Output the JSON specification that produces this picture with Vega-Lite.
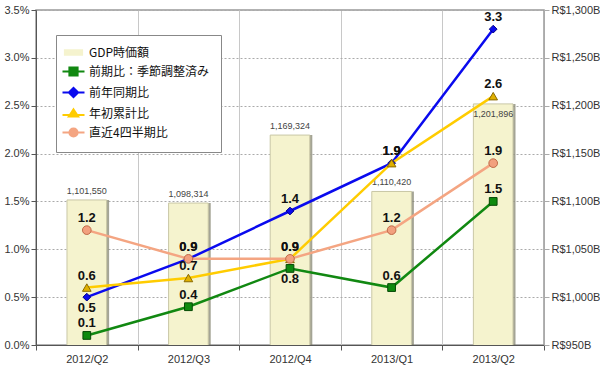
{
  "$schema": "https://vega.github.io/schema/vega-lite/v6.json",
  "width": 508,
  "height": 335,
  "padding": {"left": 3, "top": 4, "right": 0, "bottom": 2},
  "background": "white",
  "config": {
    "view": {"stroke": "#999", "strokeWidth": 1.5},
    "font": "Liberation Sans",
    "axis": {"labelFont": "Liberation Sans", "labelFontSize": 11, "labelColor": "#333", "title": null},
    "legend": {
      "orient": "none", "legendX": 20, "legendY": 25,
      "fillColor": "white", "strokeColor": "#888", "padding": 11,
      "labelFont": "Noto Sans CJK JP", "labelFontSize": 12, "labelColor": "#111",
      "symbolSize": 100, "labelOffset": 9, "rowPadding": 3, "symbolStrokeWidth": 2.2, "symbolOpacity": 1
    }
  },
  "datasets": {
    "gdp": [
      {"q": "2012/Q2", "series": "GDP時価額", "gdp": 1101550},
      {"q": "2012/Q3", "series": "GDP時価額", "gdp": 1098314},
      {"q": "2012/Q4", "series": "GDP時価額", "gdp": 1169324},
      {"q": "2013/Q1", "series": "GDP時価額", "gdp": 1110420},
      {"q": "2013/Q2", "series": "GDP時価額", "gdp": 1201896}
    ],
    "rates": [
      {"q": "2012/Q2", "series": "前期比：季節調整済み", "value": 0.1},
      {"q": "2012/Q3", "series": "前期比：季節調整済み", "value": 0.4},
      {"q": "2012/Q4", "series": "前期比：季節調整済み", "value": 0.8},
      {"q": "2013/Q1", "series": "前期比：季節調整済み", "value": 0.6},
      {"q": "2013/Q2", "series": "前期比：季節調整済み", "value": 1.5},
      {"q": "2012/Q2", "series": "前年同期比", "value": 0.5},
      {"q": "2012/Q3", "series": "前年同期比", "value": 0.9},
      {"q": "2012/Q4", "series": "前年同期比", "value": 1.4},
      {"q": "2013/Q1", "series": "前年同期比", "value": 1.9},
      {"q": "2013/Q2", "series": "前年同期比", "value": 3.3},
      {"q": "2012/Q2", "series": "年初累計比", "value": 0.6},
      {"q": "2012/Q3", "series": "年初累計比", "value": 0.7},
      {"q": "2012/Q4", "series": "年初累計比", "value": 0.9},
      {"q": "2013/Q1", "series": "年初累計比", "value": 1.9},
      {"q": "2013/Q2", "series": "年初累計比", "value": 2.6},
      {"q": "2012/Q2", "series": "直近4四半期比", "value": 1.2},
      {"q": "2012/Q3", "series": "直近4四半期比", "value": 0.9},
      {"q": "2012/Q4", "series": "直近4四半期比", "value": 0.9},
      {"q": "2013/Q1", "series": "直近4四半期比", "value": 1.2},
      {"q": "2013/Q2", "series": "直近4四半期比", "value": 1.9}
    ]
  },
  "encoding": {
    "x": {
      "field": "q", "type": "nominal", "sort": null,
      "scale": {"paddingInner": 0, "paddingOuter": 0},
      "axis": {"labelAngle": 0, "tickBand": "extent", "grid": true, "gridColor": "#c8c8c8", "gridWidth": 1, "domainColor": "#555", "tickColor": "#555", "tickSize": 5, "labelPadding": 3}
    }
  },
  "layer": [
    {
      "data": {"name": "gdp"},
      "encoding": {
        "y": {
          "field": "gdp", "type": "quantitative",
          "scale": {"domain": [950000, 1300000], "zero": false, "nice": false},
          "axis": {"orient": "right", "values": [950000, 1000000, 1050000, 1100000, 1150000, 1200000, 1250000, 1300000], "labelExpr": "'R$' + format(datum.value/1000, ',') + 'B'", "grid": false, "domainColor": "#aaa", "tickColor": "#aaa", "tickSize": 5}
        }
      },
      "layer": [
        {
          "mark": {"type": "bar", "width": {"band": 0.39}, "xOffset": 2.5, "color": "#7d7d68", "opacity": 0.7, "clip": true}
        },
        {
          "mark": {"type": "bar", "width": {"band": 0.39}, "stroke": "#c9c7a6", "strokeWidth": 1, "clip": true},
          "encoding": {
            "color": {
              "field": "series", "type": "nominal",
              "scale": {"domain": ["GDP時価額", "前期比：季節調整済み", "前年同期比", "年初累計比", "直近4四半期比"], "range": ["#F5F3CE", "#118811", "#0A0AEE", "#FFCC00", "#F4A582"]},
              "legend": {"title": null}
            }
          }
        },
        {
          "transform": [{"filter": "datum.q !== '2013/Q2'"}],
          "mark": {"type": "text", "dy": -9, "fontSize": 9, "color": "#444", "font": "Liberation Sans"},
          "encoding": {"text": {"field": "gdp", "type": "quantitative", "format": ","}}
        },
        {
          "transform": [{"filter": "datum.q === '2013/Q2'"}],
          "mark": {"type": "text", "dy": 10, "fontSize": 9, "color": "#444", "font": "Liberation Sans"},
          "encoding": {"text": {"field": "gdp", "type": "quantitative", "format": ","}}
        }
      ]
    },
    {
      "data": {"name": "rates"},
      "encoding": {
        "y": {
          "field": "value", "type": "quantitative",
          "scale": {"domain": [0, 3.5], "nice": false},
          "axis": {"orient": "left", "values": [0, 0.5, 1, 1.5, 2, 2.5, 3, 3.5], "labelExpr": "format(datum.value, '.1f') + '%'", "grid": true, "gridDash": [2, 2], "gridColor": "#aaa", "domainColor": "#555", "tickColor": "#555", "tickSize": 5}
        }
      },
      "layer": [
        {
          "mark": {"type": "line", "strokeWidth": 2.5},
          "encoding": {
            "color": {
              "field": "series", "type": "nominal",
              "scale": {"domain": ["GDP時価額", "前期比：季節調整済み", "前年同期比", "年初累計比", "直近4四半期比"], "range": ["#F5F3CE", "#118811", "#0A0AEE", "#FFCC00", "#F4A582"]},
              "legend": {"title": null}
            }
          }
        },
        {
          "transform": [{"filter": "false"}],
          "mark": {"type": "point", "filled": true},
          "encoding": {
            "color": {
              "field": "series", "type": "nominal",
              "scale": {"domain": ["GDP時価額", "前期比：季節調整済み", "前年同期比", "年初累計比", "直近4四半期比"], "range": ["#F5F3CE", "#118811", "#0A0AEE", "#FFCC00", "#F4A582"]},
              "legend": {"title": null}
            },
            "shape": {
              "field": "series", "type": "nominal",
              "scale": {"domain": ["GDP時価額", "前期比：季節調整済み", "前年同期比", "年初累計比", "直近4四半期比"], "range": ["M-1.7,-0.45H1.7V0.45H-1.7Z", "M-2.2,0H-0.8M0.8,0H2.2M-0.8,-0.8H0.8V0.8H-0.8Z", "M-2.2,0H-0.8M0.8,0H2.2M0,-0.9L0.9,0L0,0.9L-0.9,0Z", "M-2.2,0.3H-0.8M0.8,0.3H2.2M0,-0.8L0.9,0.6H-0.9Z", "M-2.2,0H-0.8M0.8,0H2.2M0.8,0A0.8,0.8 0 1,1 -0.8,0A0.8,0.8 0 1,1 0.8,0Z"]},
              "legend": {"title": null}
            }
          }
        },
        {
          "transform": [{"filter": "datum.series === '前期比：季節調整済み'"}],
          "mark": {"type": "point", "shape": "square", "filled": true, "size": 60, "fill": "#0f8a0f", "stroke": "#064a06", "strokeWidth": 1, "opacity": 1}
        },
        {
          "transform": [{"filter": "datum.series === '前年同期比'"}],
          "mark": {"type": "point", "shape": "diamond", "filled": true, "size": 60, "fill": "#0A0AEE", "stroke": "#000088", "strokeWidth": 1, "opacity": 1}
        },
        {
          "transform": [{"filter": "datum.series === '年初累計比'"}],
          "mark": {"type": "point", "shape": "triangle-up", "filled": true, "size": 75, "fill": "#E0B000", "stroke": "#8a6a00", "strokeWidth": 1, "opacity": 1}
        },
        {
          "transform": [{"filter": "datum.series === '直近4四半期比'"}],
          "mark": {"type": "point", "shape": "circle", "filled": true, "size": 75, "fill": "#F2A07E", "stroke": "#c06a48", "strokeWidth": 1, "opacity": 1}
        },
        {
          "transform": [{"filter": "!((datum.series === '前期比：季節調整済み' && datum.q === '2012/Q4') || (datum.series === '前年同期比' && datum.q === '2012/Q2'))"}],
          "mark": {"type": "text", "dy": -12, "fontSize": 13, "fontWeight": "bold", "color": "#111", "font": "Liberation Sans"},
          "encoding": {"text": {"field": "value", "type": "quantitative", "format": ".1f"}}
        },
        {
          "transform": [{"filter": "(datum.series === '前期比：季節調整済み' && datum.q === '2012/Q4') || (datum.series === '前年同期比' && datum.q === '2012/Q2')"}],
          "mark": {"type": "text", "dy": 11, "fontSize": 13, "fontWeight": "bold", "color": "#111", "font": "Liberation Sans"},
          "encoding": {"text": {"field": "value", "type": "quantitative", "format": ".1f"}}
        }
      ]
    }
  ],
  "resolve": {"scale": {"y": "independent"}}
}
